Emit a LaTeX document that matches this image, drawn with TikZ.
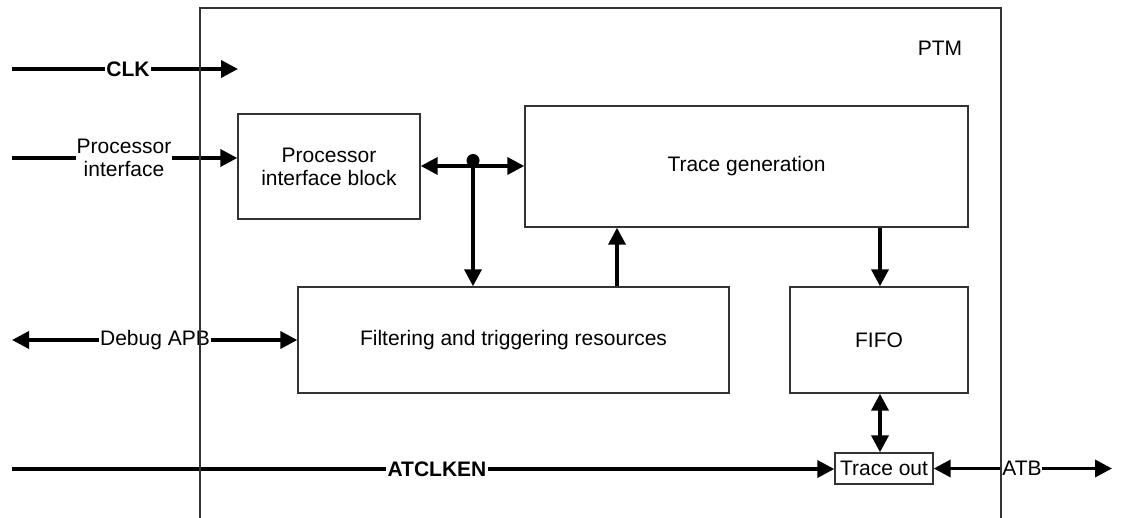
\documentclass[tikz,border=0pt]{standalone}
\usepackage{fontspec}
\setmainfont{Liberation Sans}
\usetikzlibrary{arrows.meta}
\begin{document}
\begin{tikzpicture}[x=1pt,y=-1pt,
  box/.style={draw=black!80, line width=1.4pt, inner sep=0pt, align=center, font=\fontsize{21}{23}\selectfont},
  conn/.style={line width=3.6pt, black},
  tip/.style={-{Triangle[length=17pt,width=17pt]}},
  btip/.style={{Triangle[length=17pt,width=17pt]}-{Triangle[length=17pt,width=17pt]}},
  lbl/.style={fill=white, inner sep=1pt, align=center, font=\fontsize{21}{23}\selectfont},
  blbl/.style={fill=white, inner sep=1pt, font=\fontsize{21}{23}\selectfont\bfseries}]
\useasboundingbox (0,0) rectangle (1123,518);
% blocks
\node[box, minimum width=182pt, minimum height=105pt] (pib) at (329,166.5) {Processor\\interface block};
\node[box, minimum width=443pt, minimum height=121pt] (tg) at (746.5,166.5) {Trace generation};
\node[box, minimum width=431pt, minimum height=106pt] (filt) at (513.5,340) {Filtering and triggering resources};
\node[box, minimum width=178pt, minimum height=106pt] (fifo) at (879,340) {FIFO};
\node[box, minimum width=98pt, minimum height=31pt] (to) at (884,468.5) {Trace out};
% free ends
\coordinate (clkS) at (12,69);
\coordinate (clkE) at (238,69);
\coordinate (piS) at (12,158);
\coordinate (apbS) at (12,340);
\coordinate (atS) at (12,469);
\coordinate (atbE) at (1112,468.5);
\coordinate (jn) at (473,166);
% labels
\node[blbl] (clk) at (128,69) {CLK};
\node[lbl] (pil) at (124,158) {Processor\\interface};
\node[lbl] (apb) at (155,340) {Debug APB};
\node[blbl] (atclk) at (437,469) {ATCLKEN};
\node[lbl, inner sep=0.5pt] (atb) at (1022,468.5) {ATB};
\node[font=\fontsize{21}{23}\selectfont] (ptm) at (940,48) {PTM};
% connectors
\draw[conn] (clkS) -- (clk.west);
\draw[conn,tip] (clk.east) -- (clkE);
\draw[conn] (piS) -- (pil.west |- piS);
\draw[conn,tip] (pil.east |- piS) -- (pib.west |- piS);
\draw[conn,tip] (apb.west) -- (apbS);
\draw[conn,tip] (apb.east) -- (filt.west);
\draw[conn] (atS) -- (atclk.west);
\draw[conn,tip] (atclk.east) -- (to.west |- atclk.east);
\draw[conn,tip] (atb.west) -- (to.east);
\draw[conn,tip] (atb.east) -- (atbE);
\draw[conn,btip] (pib.east |- jn) -- (tg.west |- jn);
\draw[conn,tip] (jn) -- (jn |- filt.north);
\fill (473,160.5) circle (6.5pt);
\draw[conn,tip] (filt.north -| 617,0) -- (tg.south -| 617,0);
\draw[conn,tip] (tg.south -| 880,0) -- (fifo.north -| 880,0);
\draw[conn,btip] (fifo.south -| 880,0) -- (to.north -| 880,0);
% PTM boundary
\draw[draw=black!80, line width=1.4pt] (200,518) -- (200,8) -- (1001,8) -- (1001,518);
\end{tikzpicture}
\end{document}
